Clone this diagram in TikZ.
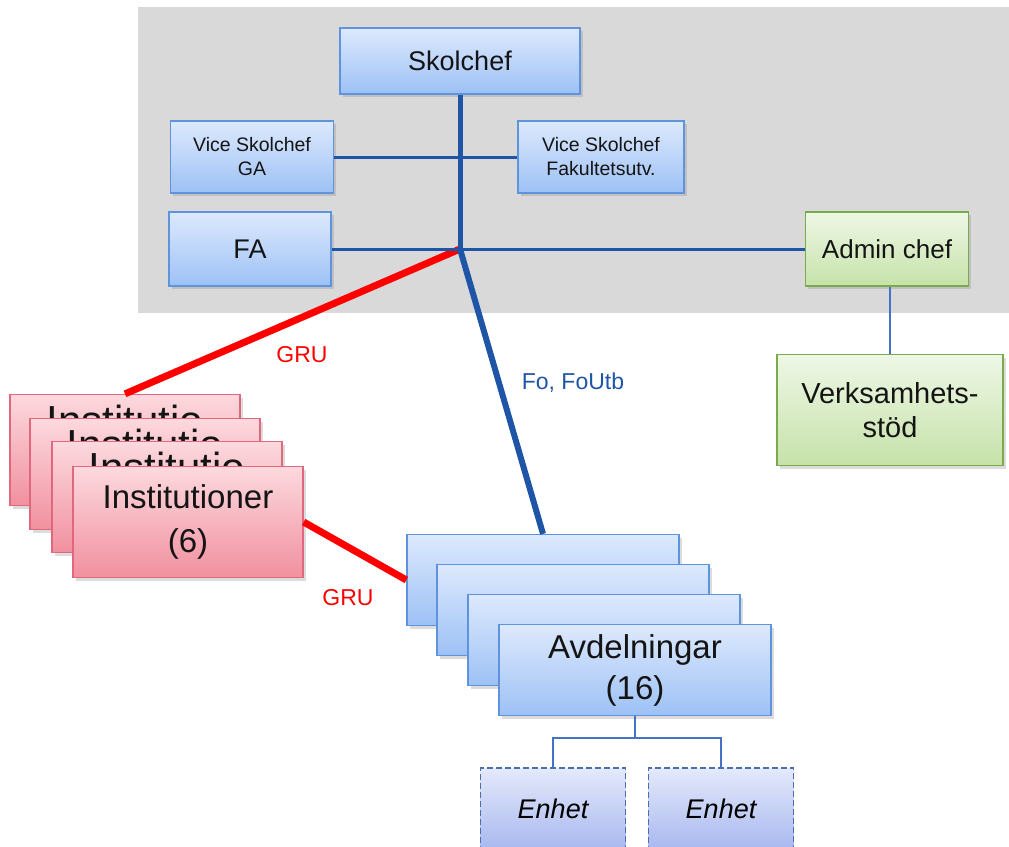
\documentclass[tikz,border=0pt]{standalone}
\usepackage{fontspec}
\setmainfont{Liberation Sans}
\usetikzlibrary{positioning,shadows}

\definecolor{boxtop}{HTML}{DDE9FD}
\definecolor{boxbot}{HTML}{9DC1F5}
\definecolor{boxedge}{HTML}{5E93DE}
\definecolor{admtop}{HTML}{EEF7E6}
\definecolor{admbot}{HTML}{C6E2A9}
\definecolor{admedge}{HTML}{79AB4B}
\definecolor{insttop}{HTML}{FCD9DE}
\definecolor{instbot}{HTML}{F1909F}
\definecolor{instedge}{HTML}{E0677D}
\definecolor{unittop}{HTML}{E4E9FA}
\definecolor{unitbot}{HTML}{A8B8EF}
\definecolor{unitedge}{HTML}{4A6EB0}
\definecolor{trunkblue}{HTML}{1F55A6}
\definecolor{thinblue}{HTML}{4472C4}
\definecolor{panelgray}{HTML}{D9D9D9}

\begin{document}
\begin{tikzpicture}[
   x=1pt, y=-1pt,
   box/.style={draw,line width=1.3pt,inner sep=3pt,align=center,text=black!92,
               drop shadow={shadow xshift=2.5pt,shadow yshift=-3pt,opacity=.28}},
   office/.style={box,top color=boxtop,bottom color=boxbot,draw=boxedge,
               font=\fontsize{27}{32}\selectfont},
   vice/.style={office,minimum width=163pt,minimum height=72pt,
               font=\fontsize{19.5}{24}\selectfont},
   adm/.style={box,top color=admtop,bottom color=admbot,draw=admedge},
   inst/.style={box,top color=insttop,bottom color=instbot,draw=instedge,
               minimum width=230pt,minimum height=111pt,
               font=\fontsize{33}{44}\selectfont},
   instback/.style={anchor=north,inner sep=0pt,yshift=-11pt,text=black!92,
               font=\fontsize{42}{42}\selectfont},
   avd/.style={office,minimum width=272pt,minimum height=91pt,
               font=\fontsize{33}{41}\selectfont},
   unit/.style={draw=unitedge,dash pattern=on 6pt off 3pt,line width=1.5pt,
               top color=unittop,bottom color=unitbot,minimum width=145pt,
               minimum height=82pt,font=\fontsize{27}{32}\selectfont\itshape},
   tag/.style={font=\fontsize{23}{28}\selectfont},
   trunk/.style={draw=trunkblue,line width=5pt},
   link/.style={draw=trunkblue,line width=3pt},
   fo/.style={draw=trunkblue,line width=6pt},
   gru/.style={draw=red,line width=7pt},
   sub/.style={draw=thinblue,line width=2pt},
   ]
\useasboundingbox (0,0) rectangle (1009,846);
%% grey panel behind the school management
\fill[panelgray] (138,7) rectangle (1012,313);
%% management
\node[office,minimum width=240pt,minimum height=66pt] (skol) at (460,61) {Skolchef};
\node[vice] (vga) at (252,157) {Vice Skolchef\\GA};
\node[vice,minimum width=166pt] (vfak) at (601,157) {Vice Skolchef\\Fakultetsutv.};
\node[office,minimum width=162pt,minimum height=74pt] (fa) at (250,249) {FA};
\node[adm,minimum width=163pt,minimum height=74pt,font=\fontsize{26}{30}\selectfont]
   (admin) at (887,249) {Admin chef};
\node[adm,minimum width=226pt,minimum height=111pt,font=\fontsize{29}{34}\selectfont]
   (verk) at (890,410) {Verksamhets-\\stöd};
%% departments, stacked
\foreach \i/\x/\y in {1/125/450,2/145/474,3/167/497}
   \node[inst,label={[instback]north:Institutio}] (inst\i) at (\x,\y) {};
\node[inst] (inst4) at (188,522) {Institutioner\\(6)};
%% divisions, stacked
\foreach \i/\x/\y in {1/543/580,2/573/610,3/604/640}
   \node[avd] (avd\i) at (\x,\y) {};
\node[avd] (avd4) at (635,670) {Avdelningar\\(16)};
%% units
\node[unit] (enh1) at (553,809) {Enhet};
\node[unit] (enh2) at (721,809) {Enhet};
%% lines
\coordinate (hub) at (skol.south |- fa.east);
\draw[gru] (hub) -- (inst1.north);
\node[tag,text=red] (gru1) at (302,355) {GRU};
\draw[gru] (inst4.east) -- (avd1.west);
\node[tag,text=red] (gru2) at (348,598) {GRU};
\draw[trunk] (skol.south) -- (hub);
\draw[link] (vga.east) -- (vfak.west);
\draw[link] (fa.east) -- (admin.west);
\draw[fo] (hub) -- (avd1.north);
\node[tag,text=trunkblue] (fofu) at (573,383) {Fo, FoUtb};
\draw[sub] (admin.south -| verk.north) -- (verk.north);
\coordinate[below=22pt of avd4.south] (fork);
\draw[sub] (avd4.south) -- (fork);
\draw[sub] (enh1.north) |- (fork) -| (enh2.north);
\end{tikzpicture}
\end{document}
